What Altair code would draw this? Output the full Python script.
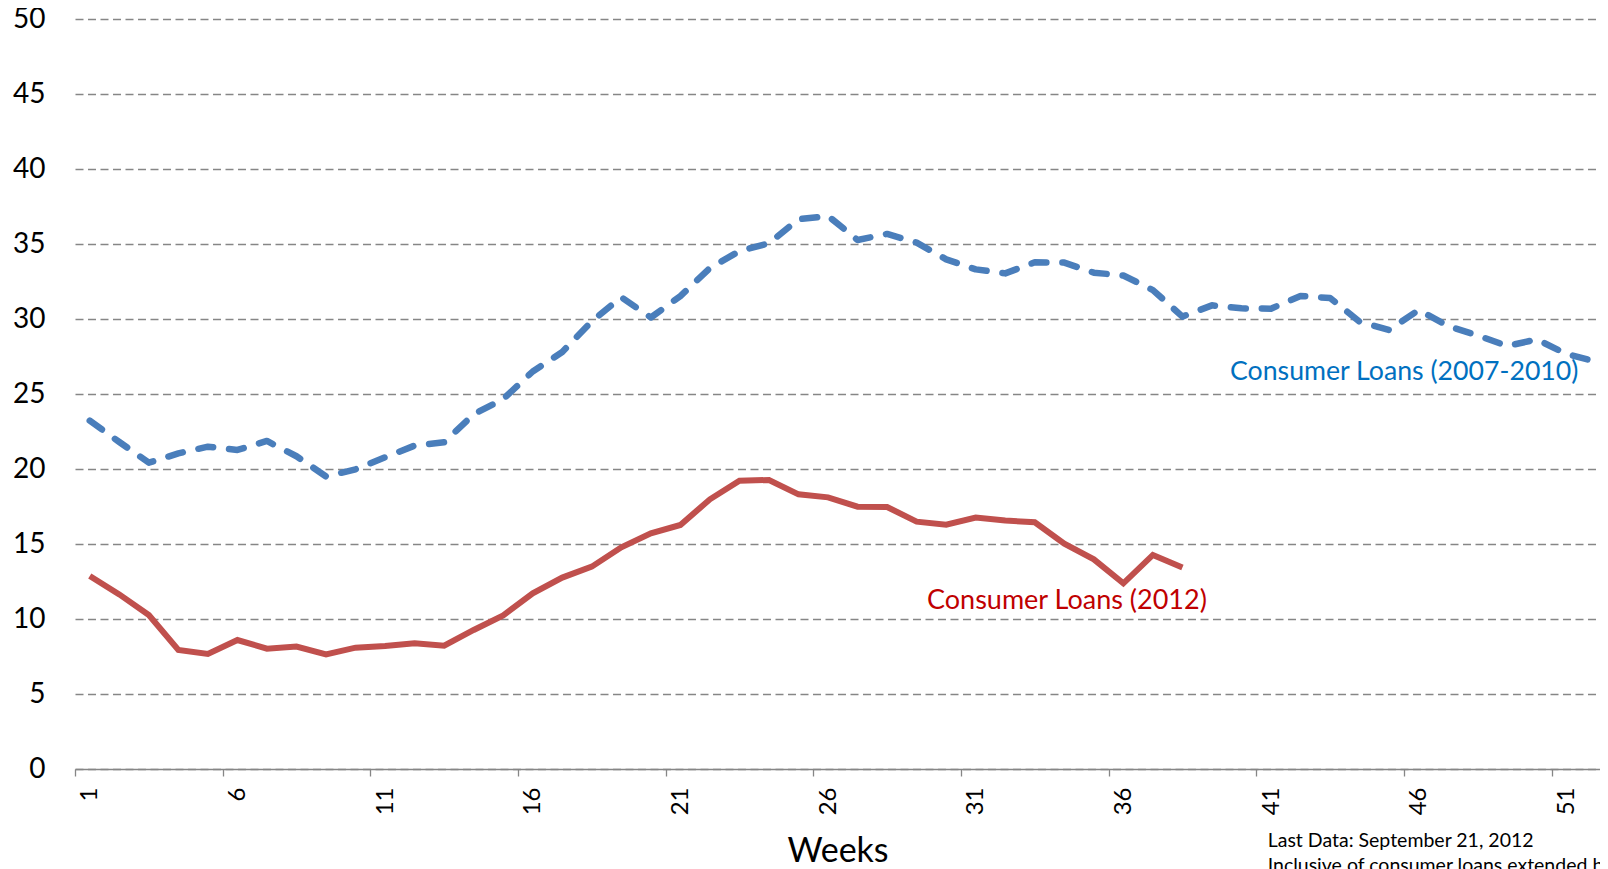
import altair as alt
import pandas as pd

# ---- data ----
weeks_2007_2010 = list(range(1, 53))
loans_2007_2010 = [23.22, 21.8, 20.42, 21.04, 21.49, 21.27, 21.87, 20.85, 19.5, 19.98,
                   20.78, 21.56, 21.78, 23.65, 24.66, 26.5, 27.8, 29.85, 31.45, 30.1,
                   31.53, 33.4, 34.53, 35.05, 36.65, 36.87, 35.27, 35.67, 35.09, 33.98,
                   33.31, 33.04, 33.78, 33.76, 33.09, 32.9, 31.93, 30.16, 30.91, 30.71,
                   30.69, 31.53, 31.4, 29.82, 29.27, 30.6, 29.53, 28.9, 28.2, 28.64,
                   27.67, 27.16]
weeks_2012 = list(range(1, 39))
loans_2012 = [12.87, 11.64, 10.27, 7.93, 7.67, 8.6, 8.02, 8.16, 7.64, 8.09,
              8.2, 8.38, 8.22, 9.27, 10.24, 11.71, 12.76, 13.49, 14.78, 15.71,
              16.27, 17.98, 19.22, 19.27, 18.31, 18.11, 17.49, 17.47, 16.49, 16.29,
              16.76, 16.56, 16.45, 15.02, 13.98, 12.38, 14.27, 13.44]
x_tick_labels = [1, 6, 11, 16, 21, 26, 31, 36, 41, 46, 51]
y_tick_values = [0, 5, 10, 15, 20, 25, 30, 35, 40, 45, 50]

label_2007_2010 = ["Consumer Loans (2007-2010)"]
label_2012 = ["Consumer Loans (2012)"]
footnote = ["Last Data: September 21, 2012",
            "Inclusive of consumer loans extended by commercial banks"]

blue_df = pd.DataFrame({"week": weeks_2007_2010, "value": loans_2007_2010})
red_df = pd.DataFrame({"week": weeks_2012, "value": loans_2012})
blue_label_df = pd.DataFrame({"label": label_2007_2010})
red_label_df = pd.DataFrame({"label": label_2012})
note_df = pd.DataFrame({"n": [1]})

FONT = "Lato"
GRAY = "#868686"

x_scale = alt.Scale(domain=[0.5, 52.14], nice=False, zero=False)
y_scale = alt.Scale(domain=[0, 50], nice=False, zero=True)

x_axis = alt.Axis(
    values=[v - 0.5 for v in x_tick_labels],
    labelExpr="format(datum.value + 0.5, 'd')",
    labelOffset=14.77,
    labelAngle=270,
    labelFont=FONT,
    labelFontSize=24,
    labelFontWeight="normal",
    labelColor="black",
    labelPadding=11,
    labelFlush=False,
    labelOverlap=False,
    tickSize=7,
    tickColor=GRAY,
    tickWidth=1.3,
    domainColor=GRAY,
    domainWidth=1.3,
    grid=False,
    title="Weeks",
    titleFont=FONT,
    titleFontSize=34,
    titleFontWeight="normal",
    titleColor="black",
    titleBaseline="alphabetic",
    titleY=92,
)

y_axis = alt.Axis(
    values=y_tick_values,
    domain=False,
    ticks=False,
    labelFont=FONT,
    labelFontSize=28,
    labelFontWeight="normal",
    labelColor="black",
    labelPadding=30,
    grid=True,
    gridColor=GRAY,
    gridWidth=1.4,
    gridDash=[8, 4.5],
    title=None,
)

blue = alt.Chart(blue_df).mark_line(
    color="#4A7EBB", strokeWidth=6.5, strokeDash=[15, 16],
    strokeCap="round", strokeJoin="round"
).encode(
    x=alt.X("week:Q", scale=x_scale, axis=x_axis),
    y=alt.Y("value:Q", scale=y_scale, axis=y_axis),
)

red = alt.Chart(red_df).mark_line(
    color="#C0504D", strokeWidth=6, strokeJoin="miter"
).encode(
    x=alt.X("week:Q", scale=x_scale),
    y=alt.Y("value:Q", scale=y_scale),
)

blue_label = alt.Chart(blue_label_df).mark_text(
    font=FONT, fontSize=26.7, fontWeight="normal",
    color="#0070C0", align="left", baseline="alphabetic"
).encode(text="label:N", x=alt.value(1155), y=alt.value(361))

red_label = alt.Chart(red_label_df).mark_text(
    font=FONT, fontSize=27, fontWeight="normal",
    color="#C00000", align="left", baseline="alphabetic"
).encode(text="label:N", x=alt.value(852), y=alt.value(590))

note = alt.Chart(note_df).mark_text(
    text=footnote, font=FONT, fontSize=19.5, fontWeight="normal", color="black",
    align="left", baseline="alphabetic", lineHeight=25
).encode(x=alt.value(1192.7), y=alt.value(827.7))

chart = alt.layer(blue, red, blue_label, red_label, note).properties(
    width=1525,
    height=750,
    autosize=alt.AutoSizeParams(type="none"),
    padding={"left": 67, "top": 11, "right": 0, "bottom": 100},
    background="white",
).configure_view(stroke=None)

chart.save("out.html", embed_options={"renderer": "svg", "actions": False})
